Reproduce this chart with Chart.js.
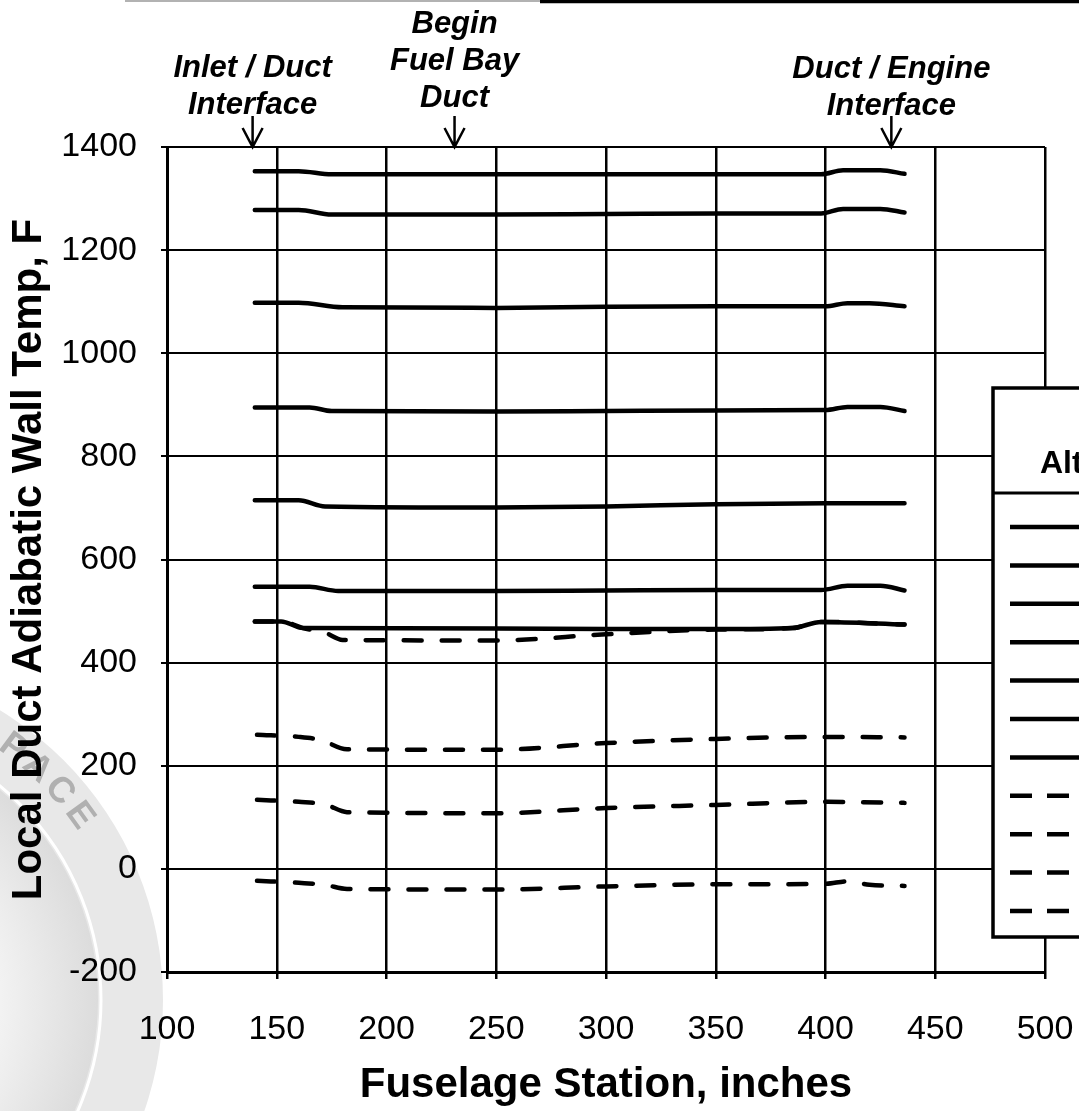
<!DOCTYPE html>
<html lang="en">
<head>
<meta charset="UTF-8">
<title>Local Duct Adiabatic Wall Temp</title>
<script src="https://cdn.jsdelivr.net/npm/chart.js"></script>
<style>
  html, body { margin: 0; padding: 0; background: #fff; }
</style>
</head>
<body>
<canvas id="chart" width="1079" height="1111"></canvas>
<script>
// fuselage station (inches) vs local duct adiabatic wall temp (F)
const st1 = [140, 160, 175, 250, 300, 350, 398, 408, 425, 436];
const t1  = [1353, 1353, 1347, 1347, 1347, 1347, 1347, 1355, 1355, 1348];
const st2 = [140, 160, 175, 250, 300, 350, 398, 408, 425, 436];
const t2  = [1278, 1278, 1269, 1269, 1270, 1271, 1271, 1280, 1280, 1273];
const st3 = [140, 160, 180, 250, 300, 350, 400, 410, 420, 436];
const t3  = [1098, 1098, 1089, 1088, 1090, 1091, 1091, 1097, 1097, 1091];
const st4 = [140, 165, 175, 250, 300, 350, 400, 410, 425, 436];
const t4  = [895, 895, 888, 887, 888, 889, 890, 896, 896, 888];
const st5 = [140, 160, 172, 250, 300, 350, 400, 436];
const t5  = [715, 715, 703, 701, 703, 707, 709, 709];
const st6 = [140, 165, 178, 250, 300, 350, 398, 410, 425, 436];
const t6  = [547, 547, 539, 539, 540, 541, 541, 549, 549, 540];
const st7 = [140, 152, 162, 250, 300, 350, 385, 398, 436];
const t7  = [480, 480, 467, 466, 465, 465, 467, 479, 474];
const st8 = [140, 152, 162, 172, 180, 250, 300, 350, 385, 398, 436];
const t8  = [480, 480, 467, 458, 444, 443, 455, 464, 467, 479, 474];
const st9 = [141, 160, 170, 182, 250, 300, 350, 400, 436];
const t9  = [260, 256, 250, 232, 231, 244, 252, 256, 255];
const st10 = [141, 160, 172, 182, 250, 300, 350, 400, 436];
const t10  = [134, 130, 125, 110, 108, 118, 124, 130, 128];
const st11 = [141, 160, 172, 182, 250, 300, 350, 400, 410, 420, 436];
const t11  = [-23, -27, -31, -39, -40, -34, -30, -29, -24, -31, -33];

const seriesX = [st1, st2, st3, st4, st5, st6, st7, st8, st9, st10, st11];
const seriesY = [t1, t2, t3, t4, t5, t6, t7, t8, t9, t10, t11];
const seriesLabels = ['Case 1', 'Case 2', 'Case 3', 'Case 4', 'Case 5', 'Case 6',
                      'Case 7', 'Case 8', 'Case 9', 'Case 10', 'Case 11'];
const dashedFrom = 7; // series 8..11 are dashed

const markerStations = [139, 231, 430];
const markerText = [['Inlet / Duct', 'Interface'], ['Begin', 'Fuel Bay', 'Duct'], ['Duct / Engine', 'Interface']];
const legendTitle = 'Altitude';

const FONT = "'Liberation Sans', Arial, Helvetica, sans-serif";

const datasets = seriesX.map((xs, i) => ({
  label: seriesLabels[i],
  data: xs.map((x, j) => ({ x: x, y: seriesY[i][j] })),
  borderColor: '#000',
  borderWidth: 4.5,
  borderCapStyle: 'round',
  borderDash: i >= dashedFrom ? [18, 20] : [],
  pointRadius: 0,
  fill: false,
  cubicInterpolationMode: 'monotone'
}));

const decor = {
  id: 'decor',
  beforeDraw(chart) {
    // faded stamp in the lower-left corner
    const ctx = chart.ctx;
    const cx = -176, cy = 1000;
    ctx.save();
    ctx.beginPath();
    ctx.arc(cx, cy, 339, 0, Math.PI * 2);
    ctx.fillStyle = '#e8e8e8';
    ctx.fill();
    const g = ctx.createRadialGradient(cx, cy, 120, cx, cy, 274);
    g.addColorStop(0, '#ffffff');
    g.addColorStop(1, '#dcdcdc');
    ctx.beginPath();
    ctx.arc(cx, cy, 274, 0, Math.PI * 2);
    ctx.fillStyle = g;
    ctx.fill();
    ctx.beginPath();
    ctx.arc(cx, cy, 277, 0, Math.PI * 2);
    ctx.strokeStyle = '#ffffff';
    ctx.lineWidth = 3;
    ctx.stroke();
    ctx.fillStyle = '#b0b0b0';
    ctx.font = 'bold 36px ' + FONT;
    ctx.textAlign = 'center';
    ctx.textBaseline = 'middle';
    const word = 'SPACE';
    for (let k = 0; k < word.length; k++) {
      const a = (-59 + k * 5.8) * Math.PI / 180;
      ctx.save();
      ctx.translate(cx + 315 * Math.cos(a), cy + 315 * Math.sin(a));
      ctx.rotate(a + Math.PI / 2);
      ctx.fillText(word[k], 0, 0);
      ctx.restore();
    }
    ctx.restore();
  },
  afterDraw(chart) {
    const ctx = chart.ctx;
    const xs = chart.scales.x;
    const top = chart.chartArea.top;
    ctx.save();

    // scanned page edge at the very top
    ctx.strokeStyle = '#999';
    ctx.lineWidth = 1.5;
    ctx.beginPath(); ctx.moveTo(125, 1); ctx.lineTo(540, 1); ctx.stroke();
    ctx.strokeStyle = '#000';
    ctx.lineWidth = 3.5;
    ctx.beginPath(); ctx.moveTo(540, 1.5); ctx.lineTo(1079, 1.5); ctx.stroke();

    // location markers with arrows
    const lastBase = [114, 107, 115];
    ctx.fillStyle = '#000';
    ctx.font = 'italic bold 31px ' + FONT;
    ctx.textAlign = 'center';
    ctx.textBaseline = 'alphabetic';
    markerStations.forEach((s, i) => {
      const px = xs.getPixelForValue(s);
      const lines = markerText[i];
      lines.forEach((t, j) => {
        ctx.fillText(t, px, lastBase[i] - (lines.length - 1 - j) * 37);
      });
      ctx.lineWidth = 2.5;
      ctx.beginPath();
      ctx.moveTo(px, 116); ctx.lineTo(px, top);
      ctx.moveTo(px - 10, top - 19); ctx.lineTo(px, top); ctx.lineTo(px + 10, top - 19);
      ctx.stroke();
    });

    // legend box (runs off the right edge)
    const lx = 993, ly = 388, lh = 549;
    ctx.fillStyle = '#fff';
    ctx.fillRect(lx, ly, 200, lh);
    ctx.strokeStyle = '#000';
    ctx.lineWidth = 3.5;
    ctx.strokeRect(lx, ly, 200, lh);
    ctx.lineWidth = 3;
    ctx.beginPath(); ctx.moveTo(lx, 493); ctx.lineTo(1193, 493); ctx.stroke();
    ctx.fillStyle = '#000';
    ctx.font = 'bold 32px ' + FONT;
    ctx.textAlign = 'left';
    ctx.fillText(legendTitle, 1040, 473);
    chart.data.datasets.forEach((ds, i) => {
      const y = 527 + i * 38.4;
      ctx.lineWidth = 4.5;
      ctx.lineCap = 'butt';
      ctx.setLineDash(i >= dashedFrom ? [22, 15] : []);
      ctx.beginPath(); ctx.moveTo(1010, y); ctx.lineTo(1130, y); ctx.stroke();
      ctx.setLineDash([]);
      ctx.font = 'bold 28px ' + FONT;
      ctx.textBaseline = 'middle';
      ctx.fillText(ds.label, 1140, y);
    });
    ctx.restore();
  }
};

new Chart(document.getElementById('chart').getContext('2d'), {
  type: 'line',
  data: { datasets: datasets },
  options: {
    responsive: false,
    animation: false,
    devicePixelRatio: 1,
    layout: { padding: { top: 147, right: 34, left: 0, bottom: 0 } },
    plugins: { legend: { display: false }, tooltip: { enabled: false } },
    scales: {
      x: {
        type: 'linear',
        min: 100,
        max: 500,
        ticks: {
          stepSize: 50, color: '#000', padding: 30,
          format: { useGrouping: false },
          font: { family: FONT, size: 34 }
        },
        grid: { color: '#000', lineWidth: 2.5, tickLength: 7 },
        border: { color: '#000', width: 3 },
        title: {
          display: true,
          text: 'Fuselage Station, inches',
          color: '#000',
          padding: 0,
          font: { family: FONT, size: 42, weight: 'bold' }
        },
        afterFit(scale) {
          scale.height = 139;
          scale.paddingLeft = 0;
          scale.paddingRight = 0;
        }
      },
      y: {
        min: -200,
        max: 1400,
        ticks: {
          stepSize: 200, color: '#000', padding: 24,
          format: { useGrouping: false },
          font: { family: FONT, size: 34 }
        },
        grid: { color: '#000', lineWidth: 2, tickLength: 6 },
        border: { color: '#000', width: 3 },
        title: {
          display: true,
          text: 'Local Duct Adiabatic Wall Temp, F',
          color: '#000',
          padding: { top: 4, bottom: 0 },
          font: { family: FONT, size: 42, weight: 'bold' }
        },
        afterFit(scale) {
          scale.width = 167;
          scale.paddingTop = 0;
          scale.paddingBottom = 0;
        }
      }
    }
  },
  plugins: [decor]
});
</script>
</body>
</html>
